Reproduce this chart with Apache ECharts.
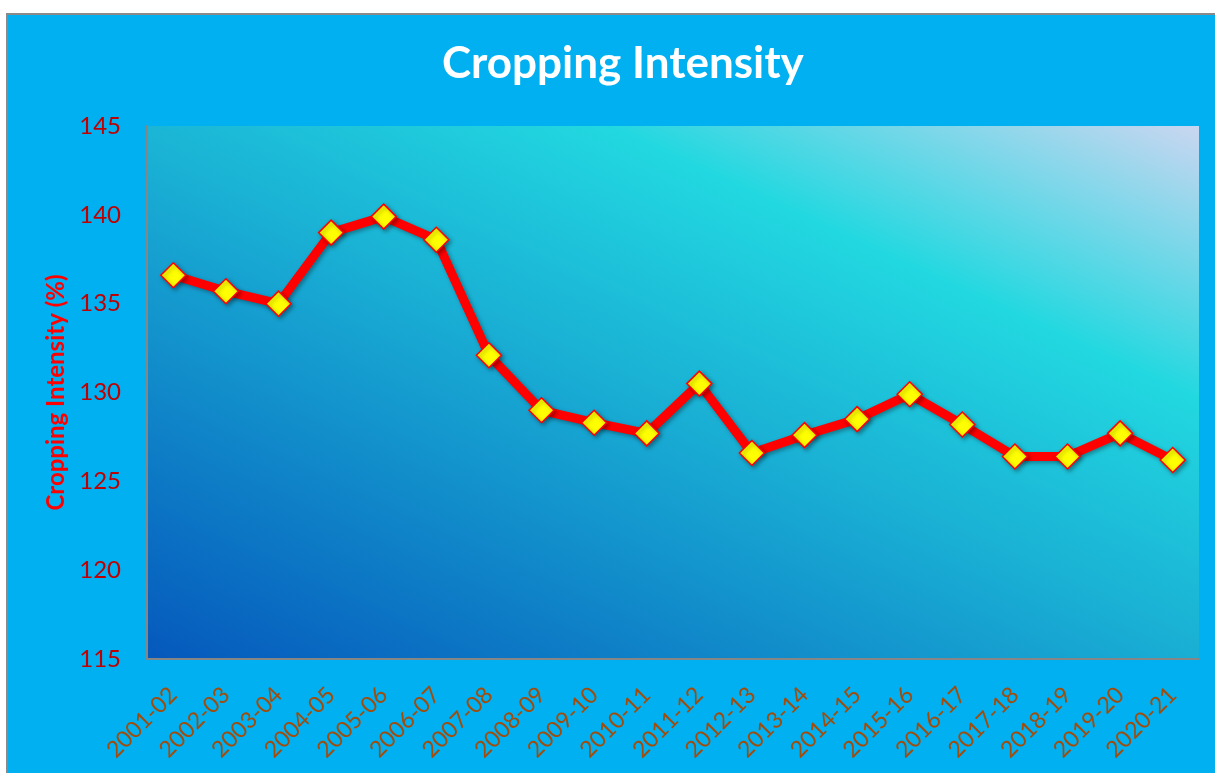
<!DOCTYPE html>
<html><head><meta charset="utf-8">
<script src="https://cdn.jsdelivr.net/npm/echarts@6/dist/echarts.min.js"></script>
<style>
html,body{margin:0;padding:0;background:#fff;width:1215px;height:773px;overflow:hidden;}
#wrap{position:absolute;left:6px;top:13px;border-left:2px solid #8a8a8a;border-top:2px solid #8a8a8a;}
#c{width:1207px;height:758px;}
</style></head>
<body>
<div id="wrap"><div id="c"></div></div>
<script>
const categories = ['2001-02','2002-03','2003-04','2004-05','2005-06','2006-07','2007-08','2008-09','2009-10','2010-11','2011-12','2012-13','2013-14','2014-15','2015-16','2016-17','2017-18','2018-19','2019-20','2020-21'];
const intensity = [136.6,135.7,135.0,139.0,139.9,138.6,132.1,129.0,128.3,127.7,130.5,126.6,127.6,128.5,129.9,128.2,126.4,126.4,127.7,126.2];
const yTicks = {min:115, max:145, interval:5};

const chart = echarts.init(document.getElementById('c'), null, {renderer:'canvas'});
chart.setOption({
  backgroundColor:'#00B0F0',
  animation:false,
  title:{
    text:'Cropping Intensity', left:429, top:22,
    textStyle:{color:'#ffffff', fontFamily:'Lato', fontWeight:'bold', fontSize:44}
  },
  grid:{
    left:139, top:111, width:1052, height:533, show:true, borderWidth:0,
    backgroundColor:{type:'linear', x:0, y:1, x2:0.37, y2:-0.58, colorStops:[
      {offset:0, color:'#0558BC'},
      {offset:0.5, color:'#1AB2D5'},
      {offset:0.73, color:'#22D8E0'},
      {offset:1, color:'#CCD6F1'}
    ]}
  },
  xAxis:{
    type:'category', data:categories, boundaryGap:true,
    axisLine:{show:true, lineStyle:{color:'#868686', width:2}},
    axisTick:{show:false},
    axisLabel:{rotate:45, color:'#A24C0C', fontFamily:'Lato', fontSize:23, margin:32, interval:0}
  },
  yAxis:{
    type:'value', min:yTicks.min, max:yTicks.max, interval:yTicks.interval,
    name:'Cropping Intensity (%)', nameLocation:'middle', nameGap:75,
    nameTextStyle:{color:'#FF0000', fontFamily:'Lato', fontWeight:'bold', fontSize:24},
    axisLine:{show:true, lineStyle:{color:'#868686', width:2}},
    axisTick:{show:false},
    splitLine:{show:false},
    axisLabel:{color:'#C00000', fontFamily:'Lato', fontSize:24, margin:26}
  },
  series:[{
    type:'line', data:intensity,
    symbol:'diamond', symbolSize:25,
    lineStyle:{color:'#FF0000', width:9, shadowColor:'rgba(0,0,0,0.35)', shadowBlur:4, shadowOffsetX:2, shadowOffsetY:2},
    itemStyle:{color:'#FFFF00', borderColor:'#FF0000', borderWidth:1.5, shadowColor:'rgba(0,0,0,0.35)', shadowBlur:4, shadowOffsetX:2, shadowOffsetY:2}
  }]
});
</script>
</body></html>
